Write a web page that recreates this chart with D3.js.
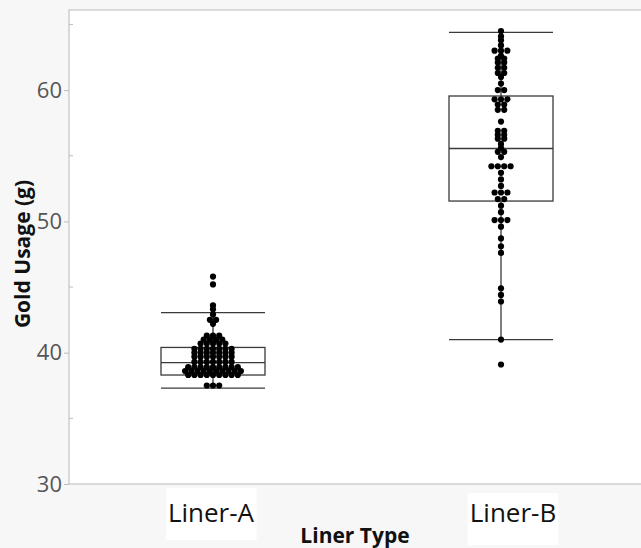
<!DOCTYPE html>
<html><head><meta charset="utf-8">
<script src="https://cdn.jsdelivr.net/npm/d3@7"></script>
<style>html,body{margin:0;padding:0;background:#f7f7f7;} svg{display:block}</style>
</head><body><svg id="c" width="641" height="548"></svg>
<script>
// ---------- data ----------
const categories = ["Liner-A", "Liner-B"];
const linerAValues = [
  45.8, 45.2, 43.6, 43.3, 42.9, 42.5, 42.5, 42.2,
  41.3, 41.3, 41.3,
  41.0, 41.0, 41.0, 41.0,
  40.7, 40.7, 40.7, 40.7, 40.7,
  40.3, 40.3, 40.3, 40.3, 40.3, 40.3, 40.3,
  40.0, 40.0, 40.0, 40.0, 40.0, 40.0, 40.0,
  39.7, 39.7, 39.7, 39.7, 39.7, 39.7, 39.7,
  39.3, 39.3, 39.3, 39.3, 39.3, 39.3, 39.3,
  38.9, 38.9, 38.9, 38.9, 38.9, 38.9, 38.9, 38.9, 38.9,
  38.6, 38.6, 38.6, 38.6, 38.6, 38.6, 38.6, 38.6, 38.6, 38.6,
  38.3, 38.3, 38.3, 38.3, 38.3, 38.3, 38.3, 38.3, 38.3,
  37.5, 37.5, 37.5
];
const linerBValues = [
  64.5, 64.1, 63.8, 63.4, 63.0, 63.0, 63.0, 62.6, 62.4, 62.4, 62.1, 62.1,
  61.7, 61.7, 61.3, 61.3, 61.0, 60.5, 60.0, 60.0, 59.3, 59.3, 59.3,
  58.9, 58.9, 58.5, 58.5, 57.6, 56.9, 56.9, 56.6, 56.6, 56.3, 56.3,
  55.9, 55.6, 55.3, 55.3, 54.9, 54.2, 54.2, 54.2, 54.2, 53.7, 53.2, 52.7,
  52.2, 52.2, 52.2, 51.7, 51.7, 51.2, 50.7, 50.1, 50.1, 50.1, 49.6,
  48.7, 48.1, 47.6, 44.9, 44.4, 43.9, 41.0, 39.1
];
const whiskerLow  = [37.3, 41.0];
const quartile1   = [38.3, 51.55];
const medians     = [39.25, 55.55];
const quartile3   = [40.4, 59.55];
const whiskerHigh = [43.05, 64.4];
const yTicks = [30, 40, 50, 60];
const yMinorTicks = [35, 45, 55, 65];
const xTitle = "Liner Type";
const yTitle = "Gold Usage (g)";

// ---------- layout ----------
const svg = d3.select("#c");
const plot = {left: 69, top: 10, right: 645, bottom: 484};
const x = d3.scaleBand().domain(categories).range([plot.left, plot.right]);
const y = d3.scaleLinear().domain([30, 66.1]).range([plot.bottom, plot.top]);
const boxW = 104;
const dotR = 3.1;
const dotStep = [6.2, 6.4];
const labelShift = [-2, 12];
const font = "'Open Sans', sans-serif";

svg.append("rect").attr("x", plot.left).attr("y", plot.top)
  .attr("width", plot.right - plot.left).attr("height", plot.bottom - plot.top)
  .attr("fill", "#fff").attr("stroke", "#c4c4c4").attr("stroke-width", 1.2);

// y axis
const yAxis = d3.axisLeft(y).tickValues(yTicks).tickSize(5).tickSizeOuter(0).tickPadding(2);
const gy = svg.append("g").attr("transform", `translate(${plot.left},0)`).call(yAxis);
gy.select(".domain").remove();
gy.selectAll(".tick line").attr("stroke", "#bdbdbd");
gy.selectAll(".tick text").attr("fill", "#555").attr("font-size", 22).attr("font-family", font);
svg.append("g").selectAll("line").data(yMinorTicks).join("line")
  .attr("x1", plot.left).attr("x2", plot.left + 4)
  .attr("y1", d => y(d)).attr("y2", d => y(d)).attr("stroke", "#bdbdbd");

// boxes
const boxes = categories.map((c, i) => ({c, lo: whiskerLow[i], q1: quartile1[i], med: medians[i], q3: quartile3[i], hi: whiskerHigh[i]}));
const gb = svg.append("g").attr("stroke", "#3a3a3a").attr("stroke-width", 1.3).attr("fill", "none");
boxes.forEach(b => {
  const cx = x(b.c) + x.bandwidth() / 2;
  gb.append("line").attr("x1", cx).attr("x2", cx).attr("y1", y(b.hi)).attr("y2", y(b.q3));
  gb.append("line").attr("x1", cx).attr("x2", cx).attr("y1", y(b.q1)).attr("y2", y(b.lo));
  gb.append("rect").attr("x", cx - boxW / 2).attr("width", boxW)
    .attr("y", y(b.q3)).attr("height", y(b.q1) - y(b.q3));
  [b.lo, b.med, b.hi].forEach(v => gb.append("line")
    .attr("x1", cx - boxW / 2).attr("x2", cx + boxW / 2).attr("y1", y(v)).attr("y2", y(v)));
});

// dots: identical values stacked side by side in a row
const series = [linerAValues, linerBValues];
const dots = [];
series.forEach((vals, i) => {
  d3.groups(vals, v => v).forEach(([v, arr]) => {
    arr.forEach((_, k) => dots.push({c: categories[i], v, off: (k - (arr.length - 1) / 2) * dotStep[i]}));
  });
});
svg.append("g").selectAll("circle").data(dots).join("circle")
  .attr("cx", d => x(d.c) + x.bandwidth() / 2 + d.off)
  .attr("cy", d => y(d.v)).attr("r", dotR).attr("fill", "#000");

// category labels with white backdrops
categories.forEach((c, i) => {
  const g = svg.append("g");
  const t = g.append("text").attr("x", x(c) + x.bandwidth() / 2 + labelShift[i]).attr("y", 522)
    .attr("text-anchor", "middle").attr("font-size", 26).attr("fill", "#111")
    .attr("font-family", font).text(c);
  const bb = t.node().getBBox();
  g.insert("rect", "text").attr("x", bb.x - 2).attr("y", bb.y - 6 + i * 5)
    .attr("width", bb.width + 4).attr("height", bb.height + 16).attr("fill", "#fff");
});

svg.append("text").attr("x", 355).attr("y", 543).attr("text-anchor", "middle")
  .attr("font-size", 21).attr("font-weight", "bold").attr("fill", "#111")
  .attr("font-family", font).text(xTitle);
svg.append("text").attr("transform", "translate(30,254) rotate(-90)").attr("text-anchor", "middle")
  .attr("font-size", 21).attr("font-weight", "bold").attr("fill", "#111")
  .attr("font-family", font).text(yTitle);
</script></body></html>
